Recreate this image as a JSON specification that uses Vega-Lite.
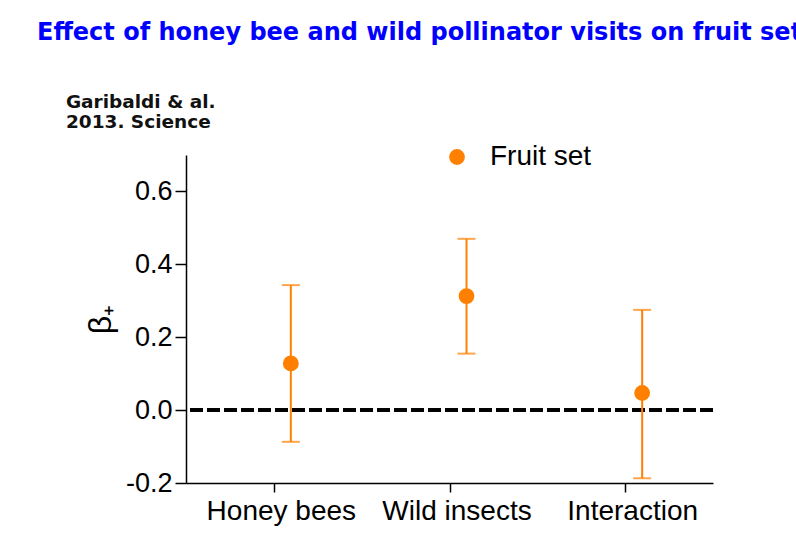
{
  "$schema": "https://vega.github.io/schema/vega-lite/v6.json",
  "autosize": "none",
  "width": 527,
  "height": 328,
  "padding": {"left": 186, "top": 155, "right": 83, "bottom": 74},
  "background": "white",
  "title": {
    "text": "Effect of honey bee and wild pollinator visits on fruit set",
    "subtitle": ["\u2800\u2800Garibaldi & al.", "\u2800\u28002013. Science"],
    "anchor": "start",
    "frame": "group",
    "dx": -149,
    "offset": 12,
    "font": "DejaVu Sans",
    "fontSize": 24,
    "fontWeight": "bold",
    "color": "#0000ff",
    "subtitleFont": "DejaVu Sans",
    "subtitleFontSize": 18.5,
    "subtitleFontWeight": "bold",
    "subtitleColor": "#111111",
    "subtitleLineHeight": 20,
    "subtitlePadding": 48
  },
  "data": {
    "values": [
      {"term": "Honey bees", "estimate": 0.128, "lo": -0.087, "hi": 0.343, "series": "Fruit set"},
      {"term": "Wild insects", "estimate": 0.313, "lo": 0.155, "hi": 0.470, "series": "Fruit set"},
      {"term": "Interaction", "estimate": 0.047, "lo": -0.187, "hi": 0.275, "series": "Fruit set"}
    ]
  },
  "encoding": {
    "x": {
      "field": "term",
      "type": "nominal",
      "sort": ["Honey bees", "Wild insects", "Interaction"],
      "scale": {"type": "point", "padding": 0.5},
      "axis": {
        "title": null,
        "labelAngle": 0,
        "labelFont": "Liberation Sans",
        "labelFontSize": 28,
        "labelColor": "black",
        "labelPadding": 5,
        "labelOffset": 7,
        "tickSize": 9,
        "tickColor": "black",
        "tickWidth": 1.5,
        "domainColor": "black",
        "domainWidth": 1.5
      }
    }
  },
  "layer": [
    {
      "mark": {"type": "rule", "color": "black", "strokeWidth": 3.5, "strokeDash": [13, 4]},
      "encoding": {"y": {"datum": 0, "type": "quantitative"}, "x": null}
    },
    {
      "mark": {"type": "rule", "color": "#ff8000", "strokeWidth": 2, "xOffset": 17},
      "encoding": {
        "y": {
          "field": "lo",
          "type": "quantitative",
          "scale": {"domain": [-0.2, 0.7], "nice": false},
          "axis": {
            "title": "β₊",
            "titleFont": "Liberation Sans",
            "titleFontSize": 32,
            "titleFontWeight": "normal",
            "titleColor": "black",
            "titlePadding": 8,
            "values": [-0.2, 0, 0.2, 0.4, 0.6],
            "format": ".1f",
            "labelExpr": "replace(datum.label, '\u2212', '-')",
            "labelFont": "Liberation Sans",
            "labelFontSize": 27,
            "labelColor": "black",
            "labelPadding": 3,
            "tickSize": 11,
            "tickColor": "black",
            "tickWidth": 1.5,
            "domainColor": "black",
            "domainWidth": 1.5,
            "grid": false
          }
        },
        "y2": {"field": "hi"}
      }
    },
    {
      "mark": {"type": "tick", "color": "#ff8000", "thickness": 2, "size": 18, "xOffset": 17, "orient": "horizontal"},
      "encoding": {"y": {"field": "lo", "type": "quantitative"}}
    },
    {
      "mark": {"type": "tick", "color": "#ff8000", "thickness": 2, "size": 18, "xOffset": 17, "orient": "horizontal"},
      "encoding": {"y": {"field": "hi", "type": "quantitative"}}
    },
    {
      "mark": {"type": "point", "filled": true, "opacity": 1, "size": 250, "xOffset": 17},
      "encoding": {
        "y": {"field": "estimate", "type": "quantitative"},
        "color": {
          "field": "series",
          "type": "nominal",
          "scale": {"range": ["#ff8000"]},
          "legend": {
            "title": null,
            "orient": "none",
            "legendX": 257,
            "legendY": -12,
            "symbolType": "circle",
            "symbolSize": 250,
            "symbolOpacity": 1,
            "labelFont": "Liberation Sans",
            "labelFontSize": 28,
            "labelColor": "black",
            "labelOffset": 19
          }
        }
      }
    }
  ],
  "config": {
    "view": {"stroke": null},
    "axis": {"grid": false}
  }
}
